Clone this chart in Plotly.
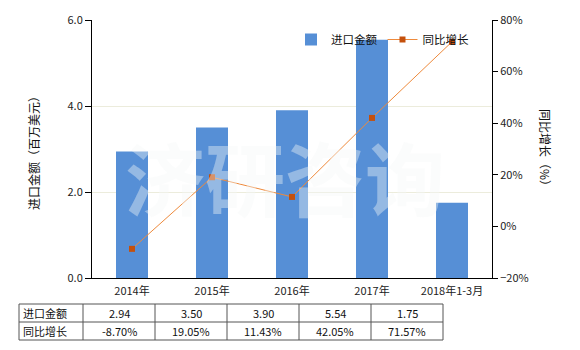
import plotly.graph_objects as go

categories = ["2014年", "2015年", "2016年", "2017年", "2018年1-3月"]
import_values = [2.94, 3.50, 3.90, 5.54, 1.75]
growth_values = [-8.70, 19.05, 11.43, 42.05, 71.57]
bar_name = "进口金额"
line_name = "同比增长"
left_title = "进口金额（百万美元）"
right_title = "同比增长（%）"

FONT = "Noto Sans CJK SC"
W, H = 580, 350
L, R, T, B = 92, 88, 20, 72
PW, PH = W - L - R, H - T - B

def px(x):
    return (x - L) / PW

def py(y):
    return (H - B - y) / PH

fig = go.Figure()
fig.add_trace(go.Bar(
    x=categories, y=import_values, name=bar_name,
    marker=dict(color="#568fd6", line=dict(width=0)), width=0.4,
    yaxis="y",
))
fig.add_trace(go.Scatter(
    x=categories, y=growth_values, name=line_name, mode="lines+markers",
    line=dict(color="#ee8a3c", width=1),
    marker=dict(symbol="square", size=6, color="#c4500c"),
    yaxis="y2",
))

tickfont = dict(family=FONT, size=11, color="#222")
fig.update_layout(
    width=W, height=H,
    margin=dict(l=L, r=R, t=T, b=B, pad=0),
    paper_bgcolor="white", plot_bgcolor="white",
    font=dict(family=FONT, size=11, color="#222"),
    showlegend=True,
    legend=dict(orientation="h", x=px(291), y=py(25), xanchor="left", yanchor="top",
                bgcolor="rgba(0,0,0,0)", font=dict(family=FONT, size=11.5, color="#111"),
                itemwidth=30, tracegroupgap=0),
    bargap=0.6,
    xaxis=dict(range=[-0.5, 4.5], showline=True, linecolor="#000", linewidth=1,
               ticks="outside", ticklen=3, tickcolor="rgba(0,0,0,0)",
               tickfont=tickfont, showgrid=False, zeroline=False),
    yaxis=dict(range=[0, 6], dtick=2, tickformat=".1f", showline=True, linecolor="#000",
               linewidth=1, ticks="outside", ticklen=6, tickcolor="#000",
               tickfont=tickfont, showgrid=True, gridcolor="#ececdc", gridwidth=1,
               zeroline=False),
    yaxis2=dict(range=[-20, 80], dtick=20, ticksuffix="%", overlaying="y", side="right",
                showline=True, linecolor="#000", linewidth=1, ticks="outside", ticklen=5,
                tickcolor="#000", tickfont=tickfont, showgrid=False, zeroline=False),
)

annotations = []
shapes = []
# axis titles
annotations.append(dict(text=left_title, x=px(33), y=py(150), xref="paper", yref="paper",
                        xanchor="center", yanchor="middle",
                        showarrow=False, textangle=-90, font=dict(family=FONT, size=12, color="#111")))
annotations.append(dict(text=right_title, x=px(546), y=py(150), xref="paper", yref="paper",
                        xanchor="center", yanchor="middle",
                        showarrow=False, textangle=90, font=dict(family=FONT, size=12, color="#111")))
# watermark
annotations.append(dict(text="济研咨询", x=px(285), y=py(175), xref="paper", yref="paper",
                        xanchor="center", yanchor="middle",
                        showarrow=False,
                        font=dict(family=FONT, size=80, weight="bold", color="rgba(244,247,248,0.4)")))

# table
col_x = [19, 83, 155, 227, 299, 371, 443]
row_y = [304, 322, 340]
bc = "#555"
for xv in col_x:
    shapes.append(dict(type="line", xref="paper", yref="paper", x0=px(xv), x1=px(xv),
                       y0=py(row_y[0]), y1=py(row_y[-1]), line=dict(color=bc, width=1)))
for yv in row_y:
    shapes.append(dict(type="line", xref="paper", yref="paper", x0=px(col_x[0]), x1=px(col_x[-1]),
                       y0=py(yv), y1=py(yv), line=dict(color=bc, width=1)))
rows = [(bar_name, [f"{v:.2f}" for v in import_values]),
        (line_name, [f"{v:.2f}%" for v in growth_values])]
cf = dict(family=FONT, size=11, color="#111")
for ri, (label, vals) in enumerate(rows):
    yc = py((row_y[ri] + row_y[ri + 1]) / 2)
    annotations.append(dict(text=label, x=px(col_x[0] + 2), y=yc, xref="paper", yref="paper",
                            xanchor="left", yanchor="middle", showarrow=False, font=cf))
    for ci, v in enumerate(vals):
        xc = px((col_x[ci + 1] + col_x[ci + 2]) / 2)
        annotations.append(dict(text=v, x=xc, y=yc, xref="paper", yref="paper",
                                xanchor="center", yanchor="middle",
                                showarrow=False, font=cf))

fig.update_layout(annotations=annotations, shapes=shapes)
fig.write_html("out.html")
